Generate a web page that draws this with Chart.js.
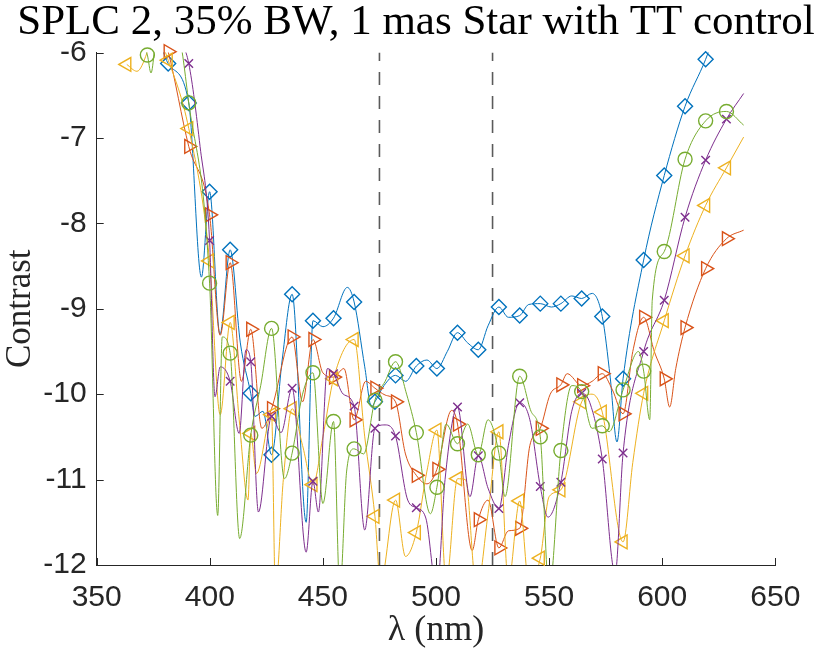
<!DOCTYPE html>
<html><head><meta charset="utf-8">
<script src="https://cdn.jsdelivr.net/npm/chart.js@4/dist/chart.umd.min.js"></script>
<style>html,body{margin:0;padding:0;background:#fff;}#wrap{width:832px;height:659px;position:relative;}</style>
</head><body><div id="wrap"><canvas id="c" width="832" height="659"></canvas></div>
<script>
const titleText = 'SPLC 2, 35% BW, 1 mas Star with TT control';
const xLabel = 'λ (nm)';
const yLabel = 'Contrast';
const xTicks = [350, 400, 450, 500, 550, 600, 650];
const yTicks = [-12, -11, -10, -9, -8, -7, -6];
const bandEdges = [475, 525];

// wavelengths of the plotted markers
const lambdaMarks = [363.3, 372.4, 381.6, 390.7, 399.9, 409.0, 418.1, 427.3, 436.4, 445.6,
  454.7, 463.8, 473.0, 482.1, 491.3, 500.4, 509.5, 518.7, 527.8, 537.0,
  546.1, 555.2, 564.4, 573.5, 582.7, 591.8, 600.9, 610.1, 619.2, 628.4];

// marker values (null = outside the visible range)
const blueMarks = [null, null, -6.13, -6.59, -7.63, -8.31, -9.99, -10.71, -8.83, -9.14,
  -9.11, -8.92, -10.09, -9.78, -9.67, -9.70, -9.28, -9.48, -8.98, -9.08,
  -8.94, -8.94, -8.88, -9.09, -9.82, -8.43, -7.44, -6.63, -6.08, null];
const orangeMarks = [null, null, -5.99, -7.10, -7.90, -8.46, -9.24, -10.17, -9.33, -9.36,
  -9.80, -10.30, -9.93, -10.09, -10.95, -10.88, -10.35, -11.47, -11.80, -11.57,
  -10.40, -9.89, -9.90, -9.76, -10.23, -9.10, -9.82, -9.22, -8.53, -8.18];
const yellowMarks = [-6.14, null, -6.09, -6.89, -8.44, -9.16, -10.46, -10.24, -10.17, -11.06,
  -9.82, -9.36, -11.43, -11.24, -11.62, -10.42, -10.99, null, -10.44, -11.25,
  -11.92, -11.12, -10.09, -10.21, -11.73, -9.99, -9.14, -8.38, -7.79, -7.35];
const purpleMarks = [null, null, null, -6.13, -8.20, -9.85, -9.62, -10.26, -9.93, -11.02,
  -9.76, -10.14, -10.40, -10.49, -11.33, null, -10.15, -10.72, -11.34, -10.10,
  -11.08, -11.03, -9.99, -10.76, -10.69, -9.50, -8.90, -7.93, -7.26, -6.78];
const greenMarks = [null, -6.03, null, -6.59, -8.70, -9.52, -10.48, -9.23, -10.69, -9.75,
  -10.32, -10.64, -10.07, -9.62, -10.45, -11.09, -10.58, -10.71, -10.69, -9.79,
  -10.50, -10.66, -9.97, -10.37, -9.95, -9.73, -8.33, -7.25, -6.80, -6.69];

// extra curve points between markers [nm, value]
const blueExtra = [[376,-5.7],[396.3,-8.63],[404.5,-9.3],[413.5,-9.4],[420,-10.26],[423.5,-10.2],
  [432,-9.6],[442.6,-11.5],[450,-9.21],[460.8,-8.75],[468.5,-9.68],[471.5,-10.15],[477,-9.9],
  [486.6,-9.85],[496,-9.6],[505,-9.5],[514,-9.4],[523,-9.2],[532,-9.1],[541,-8.95],[551,-8.98],
  [560,-8.85],[569,-8.82],[577,-9.8],[580,-10.56],[623,-5.8]];
const orangeExtra = [[378,-5.7],[404.6,-9.31],[414,-9.85],[423,-10.4],[441,-10.09],[450,-9.75],
  [459.3,-9.70],[468.9,-9.85],[477.5,-10.01],[486.5,-10.7],[496,-11.05],[506.9,-10.19],[516,-11.83],
  [523,-11.24],[532,-11.6],[541.5,-10.6],[550.5,-10.0],[558,-9.76],[569,-9.85],[578,-9.95],
  [587,-9.5],[596.5,-9.5],[603.3,-10.15],[606,-9.7],[636,-8.08]];
const yellowExtra = [[367.8,-6.22],[376.5,-5.8],[404.6,-10.24],[413,-10.3],[416.9,-11.24],[420.6,-10.93],
  [429,-12.3],[432.5,-11.0],[441,-10.6],[450,-10.5],[468.5,-10.5],[475.5,-12.2],[486.5,-11.9],
  [496,-10.9],[504.5,-12.2],[513,-11.0],[518,-12.3],[523,-11.4],[532,-12.2],[541,-12.2],
  [550,-11.2],[569,-10.0],[587,-10.8],[636,-6.99]];
const purpleExtra = [[386,-5.8],[395.7,-7.1],[402.3,-10.03],[404.6,-9.68],[413,-10.46],[416,-9.48],
  [421.5,-11.38],[431.5,-10.45],[442.6,-11.85],[448,-11.38],[452,-9.7],[459,-10.0],[468.5,-11.59],
  [477.5,-10.36],[487.5,-11.24],[495.5,-11.45],[500.4,-12.3],[504,-11.0],[515,-11.2],[523,-11.1],
  [532,-10.6],[541.5,-10.3],[549.5,-11.44],[560,-10.2],[568,-10.1],[579.2,-12.1],[636,-6.48]];
const greenExtra = [[368,-5.8],[374,-6.24],[377,-5.7],[386,-5.8],[403.5,-11.42],[405.5,-9.33],
  [413.2,-11.69],[422.5,-9.9],[433,-10.99],[441,-10.0],[450,-11.28],[457.5,-12.3],[460.5,-10.9],
  [468,-10.7],[477.5,-9.85],[487,-10.0],[497.5,-11.4],[504.5,-10.35],[514,-10.35],[523,-10.3],
  [530.5,-11.2],[542,-10.2],[550,-12.3],[560,-9.9],[569,-10.4],[576.5,-10.44],[589.5,-9.5],
  [594.5,-10.3],[595.6,-8.9],[636,-6.85]];

const series = [
  {marks: blueMarks, extra: blueExtra, color: '#0072BD', style: 'rectRot', rot: 0, r: 7.5},
  {marks: orangeMarks, extra: orangeExtra, color: '#D95319', style: 'triangle', rot: 90, r: 8},
  {marks: yellowMarks, extra: yellowExtra, color: '#EDB120', style: 'triangle', rot: -90, r: 8},
  {marks: purpleMarks, extra: purpleExtra, color: '#7E2F8E', style: 'cross', rot: 45, r: 6},
  {marks: greenMarks, extra: greenExtra, color: '#77AC30', style: 'circle', rot: 0, r: 7}
];

const datasets = [];
series.forEach((s, i) => {
  const pts = [];
  lambdaMarks.forEach((x, k) => { if (s.marks[k] !== null) pts.push({x: x, y: s.marks[k]}); });
  const markerPts = pts.slice();
  s.extra.forEach(p => pts.push({x: p[0], y: p[1]}));
  pts.sort((a, b) => a.x - b.x);
  datasets.push({
    data: pts, showLine: true, borderColor: s.color, borderWidth: 1, pointRadius: 0,
    cubicInterpolationMode: 'monotone', clip: 0, order: 20 - 2 * i
  });
  datasets.push({
    data: markerPts, showLine: false, borderColor: s.color, backgroundColor: 'rgba(0,0,0,0)',
    pointStyle: s.style, rotation: s.rot, pointRadius: s.r, pointBorderWidth: 1.4,
    clip: false, order: 19 - 2 * i
  });
});
bandEdges.forEach(e => {
  datasets.push({
    data: [{x: e, y: -12}, {x: e, y: -6}], showLine: true, borderColor: '#5a5a5a',
    borderWidth: 1.6, borderDash: [13, 11], pointRadius: 0, clip: 0, order: 30
  });
});

const decor = {
  id: 'decor',
  afterDraw(chart) {
    const {ctx, chartArea: a, scales: {x, y}} = chart;
    ctx.save();
    ctx.strokeStyle = '#262626';
    ctx.lineWidth = 1;
    xTicks.forEach(v => {
      const px = Math.round(x.getPixelForValue(v)) + 0.5;
      ctx.beginPath(); ctx.moveTo(px, a.bottom); ctx.lineTo(px, a.bottom - 7); ctx.stroke();
    });
    yTicks.forEach(v => {
      const py = Math.round(y.getPixelForValue(v)) + 0.5;
      ctx.beginPath(); ctx.moveTo(a.left, py); ctx.lineTo(a.left + 7, py); ctx.stroke();
    });
    ctx.fillStyle = '#000';
    ctx.font = '43px "Liberation Serif"';
    ctx.textAlign = 'center';
    ctx.textBaseline = 'alphabetic';
    ctx.fillText(titleText, 416, 34);
    ctx.restore();
  }
};

new Chart(document.getElementById('c'), {
  type: 'scatter',
  data: {datasets},
  options: {
    responsive: false, animation: false, devicePixelRatio: 1,
    layout: {padding: {left: 0, top: 52.5, right: 56.7, bottom: 0}},
    plugins: {legend: {display: false}, tooltip: {enabled: false}, title: {display: false}},
    scales: {
      x: {
        type: 'linear', min: 350, max: 650,
        afterBuildTicks: s => { s.ticks = xTicks.map(v => ({value: v})); },
        afterFit: s => { s.height = 94; },
        grid: {display: false, drawTicks: false},
        border: {display: true, color: '#262626', width: 1},
        ticks: {font: {family: '"Liberation Sans", Arial', size: 30}, color: '#262626', padding: 15, maxRotation: 0, autoSkip: false},
        title: {display: true, text: xLabel, color: '#262626', font: {family: '"Liberation Serif"', size: 36}, padding: {top: 0, bottom: 7}}
      },
      y: {
        type: 'linear', min: -12, max: -6,
        afterBuildTicks: s => { s.ticks = yTicks.map(v => ({value: v})); },
        afterFit: s => { s.width = 96.7; },
        grid: {display: false, drawTicks: false},
        border: {display: true, color: '#262626', width: 1},
        ticks: {font: {family: '"Liberation Sans", Arial', size: 30}, color: '#262626', padding: 10, autoSkip: false},
        title: {display: true, text: yLabel, color: '#262626', font: {family: '"Liberation Serif"', size: 35}, padding: {top: 0, bottom: 0}}
      }
    }
  },
  plugins: [decor]
});
</script>
</body></html>
